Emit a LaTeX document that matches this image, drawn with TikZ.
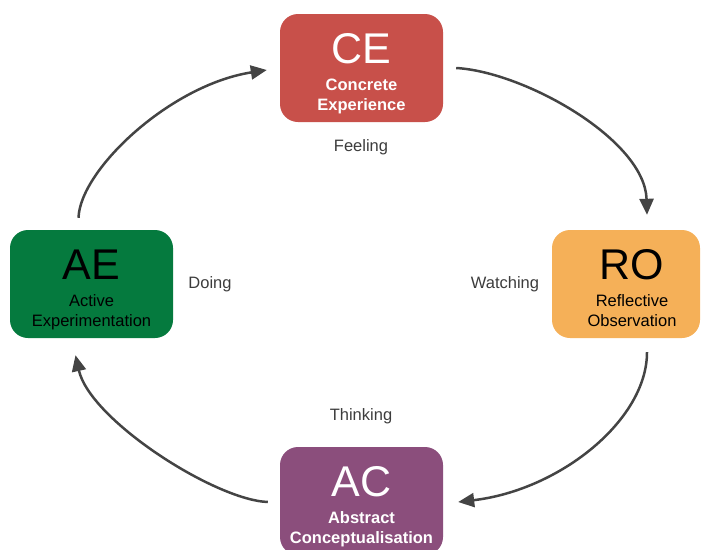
\documentclass[tikz,border=0pt]{standalone}
\usepackage{fontspec}
\setmainfont{Liberation Sans}
\usetikzlibrary{arrows.meta}
\definecolor{cered}{RGB}{200,80,74}
\definecolor{roorange}{RGB}{245,176,88}
\definecolor{aegreen}{RGB}{5,122,62}
\definecolor{acpurple}{RGB}{139,78,124}
\definecolor{arrowgray}{RGB}{68,68,68}
\definecolor{labelgray}{RGB}{60,60,60}
\tikzset{
  box/.style={draw=none, rounded corners=18pt, minimum height=108pt, inner sep=0pt},
  bigtxt/.style={anchor=base, inner sep=0pt, font=\fontsize{43}{43}\selectfont},
  subtxt/.style={anchor=base, inner sep=0pt, font=\fontsize{16.5}{20}\selectfont},
  subbold/.style={subtxt, font=\fontsize{16.5}{20}\selectfont\bfseries},
  lbl/.style={anchor=base, inner sep=0pt, text=labelgray, font=\fontsize{16.5}{20}\selectfont},
  flow/.style={draw=arrowgray, line width=2.5pt, -{Triangle[length=16pt,width=14pt]}}
}
\begin{document}
\begin{tikzpicture}[x=1pt,y=-1pt]
\useasboundingbox (0,0) rectangle (701,549);
\clip (0,0) rectangle (701,549);
% boxes
\node[box, fill=cered, minimum width=163pt] (ce) at (361.5,68) {};
\node[box, fill=aegreen, minimum width=163pt] (ae) at (91.5,284) {};
\node[box, fill=roorange, minimum width=148pt] (ro) at (626,284) {};
\node[box, fill=acpurple, minimum width=163pt] (ac) at (361.5,501) {};
% box texts
\node[bigtxt, text=white] (ce-a) at (361.5,63) {CE};
\node[subbold, text=white] (ce-b) at (361.5,90) {Concrete};
\node[subbold, text=white] (ce-c) at (361.5,110) {Experience};
\node[bigtxt, text=black] (ae-a) at (91.5,279) {AE};
\node[subtxt, text=black] (ae-b) at (91.5,306) {Active};
\node[subtxt, text=black] (ae-c) at (91.5,326) {Experimentation};
\node[bigtxt, text=black] (ro-a) at (632,279) {RO};
\node[subtxt, text=black] (ro-b) at (632,306) {Reflective};
\node[subtxt, text=black] (ro-c) at (632,326) {Observation};
\node[bigtxt, text=white] (ac-a) at (361.5,496) {AC};
\node[subbold, text=white] (ac-b) at (361.5,523) {Abstract};
\node[subbold, text=white] (ac-c) at (361.5,543) {Conceptualisation};
% labels
\node[lbl] (feel) at (361,151) {Feeling};
\node[lbl] (do) at (210,288) {Doing};
\node[lbl] (watch) at (505,288) {Watching};
\node[lbl] (think) at (361,420) {Thinking};
% connector end points
\coordinate (a1s) at ([xshift=13pt]ce.east);
\coordinate (a1e) at ([xshift=21pt,yshift=15pt]ro.north);
\coordinate (a2s) at ([xshift=21pt,yshift=-14pt]ro.south);
\coordinate (a2e) at ([xshift=15pt,yshift=-1pt]ac.east);
\coordinate (a3s) at ([xshift=-12pt,yshift=-1pt]ac.west);
\coordinate (a3e) at ([xshift=-16pt,yshift=-17pt]ae.south);
\coordinate (a4s) at ([xshift=-13pt,yshift=12pt]ae.north);
\coordinate (a4e) at ([xshift=-13pt,yshift=-2pt]ce.west);
% connectors
\draw[flow] (a1s) .. controls (525,72) and (645,140) .. (a1e);
\draw[flow] (a2s) .. controls (647,420) and (560,490) .. (a2e);
\draw[flow] (a3s) .. controls (215,500) and (90,420) .. (a3e);
\draw[flow] (a4s) .. controls (80,170) and (170,85) .. (a4e);
\end{tikzpicture}
\end{document}
